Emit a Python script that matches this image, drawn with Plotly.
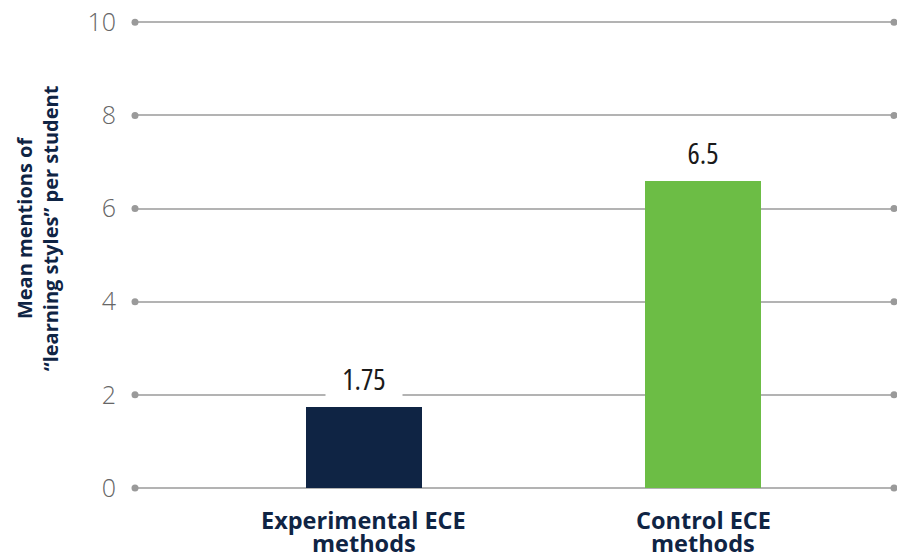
import plotly.graph_objects as go

categories = ["Experimental ECE<br>methods", "Control ECE<br>methods"]
cat_pos = [0, 1]
values = [1.75, 6.6]
value_labels = ["1.75", "6.5"]
bar_colors = ["#0f2444", "#6cbd45"]
y_ticks = [0, 2, 4, 6, 8, 10]
x_range = [-0.675, 1.563]
y_range = [0, 10.05]

NAVY = "#0f2444"

fig = go.Figure()

# gridline end dots
dot_x, dot_y = [], []
for t in y_ticks:
    dot_x += [x_range[0], x_range[1]]
    dot_y += [t, t]
fig.add_trace(go.Scatter(x=dot_x, y=dot_y, mode="markers",
                         marker=dict(color="#9a9a9a", size=7),
                         cliponaxis=False, hoverinfo="skip", showlegend=False))

fig.add_trace(go.Bar(x=cat_pos, y=values, width=0.34,
                     marker=dict(color=bar_colors, line=dict(width=0)),
                     showlegend=False))

for xp, v, lab in zip(cat_pos, values, value_labels):
    fig.add_annotation(x=xp, y=v,
                       text="<span style='font-stretch:condensed'>" + lab + "</span>",
                       showarrow=False, yanchor="bottom", yshift=8,
                       font=dict(family="Open Sans", size=29, color="#1a1a1a"),
                       bgcolor="white", width=76, borderpad=0)

# category labels (two lines each, tight line spacing)
for xp, cat in zip(cat_pos, categories):
    for i, line in enumerate(cat.split("<br>")):
        fig.add_annotation(x=xp, xref="x", y=0, yref="paper", text=line,
                           showarrow=False, xanchor="center", yanchor="middle",
                           yshift=-32 - 23 * i,
                           font=dict(family="Open Sans", size=23.5, color=NAVY, weight="bold"))

fig.add_annotation(xref="paper", yref="paper", x=-0.1285, y=0.556,
                   text="Mean mentions of<br>\u201clearning styles\u201d per student",
                   textangle=-90, showarrow=False, xanchor="center", yanchor="middle",
                   font=dict(family="Open Sans", size=20, color=NAVY, weight="bold"))

fig.update_layout(
    width=897, height=558,
    margin=dict(l=135, r=3, t=20, b=70),
    plot_bgcolor="white", paper_bgcolor="white",
    bargap=0,
    xaxis=dict(range=x_range, showticklabels=False,
               showgrid=False, zeroline=False, showline=False, ticks="",
               automargin=False),
    yaxis=dict(range=y_range, tickvals=y_ticks, showgrid=True,
               gridcolor="#b3b3b3", gridwidth=2, zeroline=True,
               zerolinecolor="#b3b3b3", zerolinewidth=2, showline=False, ticks="",
               automargin=False, ticklabelstandoff=18,
               tickfont=dict(family="Open Sans", size=25, color="#666666", weight=300)),
)

fig.write_html("out.html", config={"displayModeBar": False},
               post_script="document.body.style.margin='0';")
